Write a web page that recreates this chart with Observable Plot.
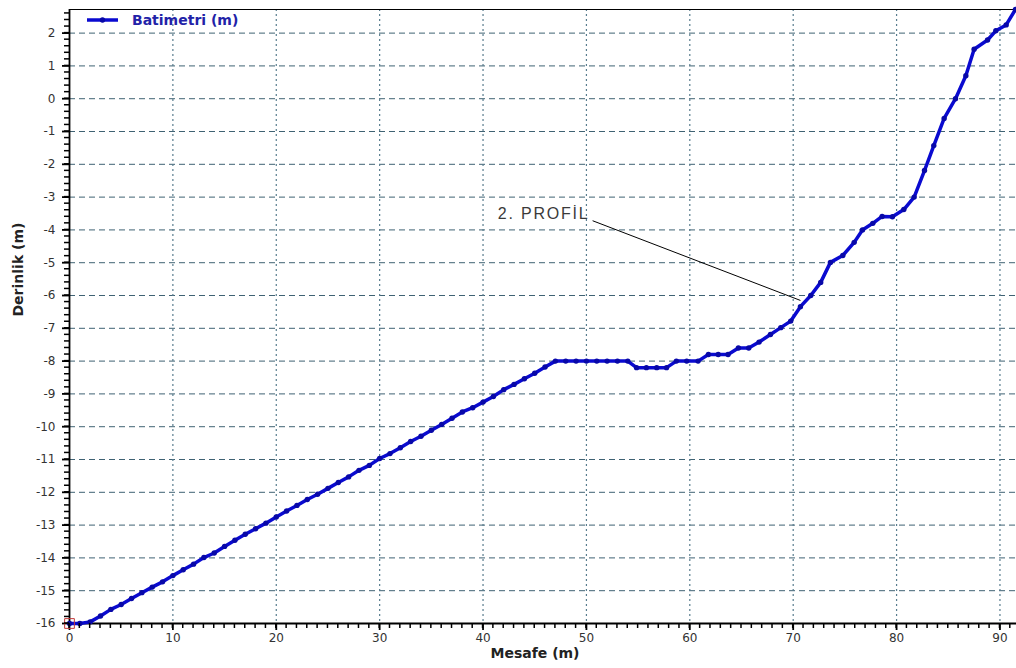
<!DOCTYPE html>
<html><head><meta charset="utf-8">
<script src="https://cdn.jsdelivr.net/npm/d3@7"></script>
<script src="https://cdn.jsdelivr.net/npm/@observablehq/plot@0.6"></script>
<style>
body{margin:0;background:#fff;}
#chart{width:1016px;height:668px;overflow:hidden;}
g[aria-description="profil"] text{letter-spacing:1.8px;}
</style></head><body><div id="chart"></div>
<script>
// Mesafe (m) and Derinlik (m)
const mesafe = [0,1,2,3,4,5,6,7,8,9,10,11,12,13,14,15,16,17,18,19,20,21,22,23,24,25,26,27,28,29,30,31,32,33,34,35,36,37,38,39,40,41,42,43,44,45,46,47,48,49,50,51,52,53,54,
  54.85,55.8,56.8,57.75,58.7,59.7,60.8,61.8,62.75,63.7,64.7,65.7,66.7,67.8,68.8,69.76,70.7,71.7,72.66,73.6,74.8,75.9,76.7,77.7,78.6,79.6,80.7,81.7,82.7,83.6,84.6,85.7,86.7,87.5,88.8,89.6,90.6,91.5];
const derinlik = [-16,-16,-15.95,-15.77,-15.57,-15.42,-15.24,-15.06,-14.89,-14.73,-14.54,-14.36,-14.19,-13.99,-13.85,-13.65,-13.46,-13.28,-13.11,-12.94,-12.75,-12.57,-12.40,-12.22,-12.06,-11.88,-11.7,-11.53,-11.33,-11.18,-10.97,-10.82,-10.64,-10.45,-10.29,-10.11,-9.93,-9.74,-9.55,-9.42,-9.25,-9.08,-8.87,-8.71,-8.54,-8.37,-8.18,-8,-8,-8,-8,-8,-8,-8,-8,
  -8.2,-8.2,-8.2,-8.2,-8,-8,-8,-7.8,-7.8,-7.8,-7.6,-7.6,-7.42,-7.19,-6.98,-6.78,-6.34,-6.0,-5.6,-4.99,-4.78,-4.38,-4.0,-3.8,-3.59,-3.6,-3.38,-3.0,-2.19,-1.43,-0.6,0.0,0.7,1.51,1.79,2.07,2.25,2.72];
const xTicks = [0,10,20,30,40,50,60,70,80,90];
const yTicks = [-16,-15,-14,-13,-12,-11,-10,-9,-8,-7,-6,-5,-4,-3,-2,-1,0,1,2];
const xDomain = [0, 91.6];
const yDomain = [-16, 2.72];
const seriesName = "Batimetri (m)";
const xLabel = "Mesafe (m)";
const yLabel = "Derinlik (m)";
const annotation = [{text: "2. PROFİL", tx: 50.3, ty: -3.52, x1: 50.6, y1: -3.72, x2: 70.7, y2: -6.15}];

const xMinor = d3.range(xDomain[0], Math.floor(xDomain[1]) + 1);
const yMinor = d3.range(-80, 14).map(d => d / 5);
const data = mesafe.map((x, i) => ({x, y: derinlik[i]}));
const blue = "#0a0ad0";
const dotBlue = "#0808a8";
const plain = d => String(d);

const plot = Plot.plot({
  width: 1016, height: 668,
  marginLeft: 69, marginRight: 0, marginTop: 9, marginBottom: 45,
  x: {domain: xDomain},
  y: {domain: yDomain},
  style: {fontFamily: "'DejaVu Sans', Verdana, sans-serif", fontSize: "12px", color: "#333", background: "#fff", overflow: "visible"},
  marks: [
    Plot.ruleY(yTicks.filter(d => d > yDomain[0]), {stroke: "#3f6273", strokeWidth: 1, strokeDasharray: "6,4"}),
    Plot.ruleX(xTicks.filter(d => d > xDomain[0]), {stroke: "#587c8e", strokeWidth: 1.2, strokeDasharray: "2,3"}),
    Plot.ruleY([yDomain[1]], {stroke: "#000", strokeWidth: 1.2}),
    Plot.ruleX([xDomain[0]], {stroke: "#000", strokeWidth: 1.8}),
    Plot.ruleY([yDomain[0]], {stroke: "#000", strokeWidth: 1.8}),
    Plot.axisY(yTicks, {tickSize: 7, tickPadding: 7, tickFormat: plain, label: null, stroke: "#000", strokeWidth: 1.8, fill: "#333", fontSize: 12}),
    Plot.axisX(xTicks, {tickSize: 7, tickPadding: 3, tickFormat: plain, label: null, stroke: "#000", strokeWidth: 1.8, fill: "#333", fontSize: 12}),
    Plot.line(data, {x: "x", y: "y", stroke: blue, strokeWidth: 3.5, strokeLinejoin: "round"}),
    Plot.dot(data, {x: "x", y: "y", r: 2.7, fill: dotBlue}),
    Plot.dot([data[0]], {x: "x", y: "y", symbol: "square", r: 5.5, stroke: "#c23a3a", fill: "none", strokeWidth: 1}),
    Plot.link(annotation, {x1: "x1", y1: "y1", x2: "x2", y2: "y2", stroke: "#000", strokeWidth: 1}),
    Plot.text(annotation, {x: "tx", y: "ty", text: "text", textAnchor: "end", fontSize: 16, fill: "#3a3a3a", fontFamily: "'Liberation Sans', Arial, sans-serif", ariaDescription: "profil"}),
    Plot.text([xLabel], {frameAnchor: "bottom", dy: 34, dx: -8, fontWeight: "bold", fontSize: 14, fill: "#222"}),
    Plot.text([yLabel], {frameAnchor: "left", dx: -51, rotate: -90, fontWeight: "bold", fontSize: 14, fill: "#222"}),
    (index, scales) => {
      const g = d3.create("svg:g");
      const x0 = scales.x(xDomain[0]) + 18, y0 = scales.y(yDomain[1]) + 11;
      g.append("line").attr("x1", x0).attr("x2", x0 + 31).attr("y1", y0).attr("y2", y0)
        .attr("stroke", blue).attr("stroke-width", 3.5);
      g.append("circle").attr("cx", x0 + 15.5).attr("cy", y0).attr("r", 2.7).attr("fill", dotBlue);
      g.append("text").attr("x", x0 + 45).attr("y", y0).attr("dy", "0.36em").attr("text-anchor", "start")
        .attr("fill", "#2222a8").attr("font-weight", "bold").attr("font-size", 14).text(seriesName);
      return g.node();
    },
    (index, scales) => {
      const g = d3.create("svg:g").attr("stroke", "#000").attr("stroke-width", 1.5);
      const x0 = scales.x(xDomain[0]), yb = scales.y(yDomain[0]);
      yMinor.forEach(v => {
        const y = scales.y(v);
        g.append("line").attr("x1", x0 - 5).attr("x2", x0).attr("y1", y).attr("y2", y);
      });
      xMinor.forEach(v => {
        const x = scales.x(v);
        g.append("line").attr("x1", x).attr("x2", x).attr("y1", yb).attr("y2", yb + 5);
      });
      return g.node();
    }
  ]
});
document.getElementById("chart").appendChild(plot);
</script>
</body></html>
